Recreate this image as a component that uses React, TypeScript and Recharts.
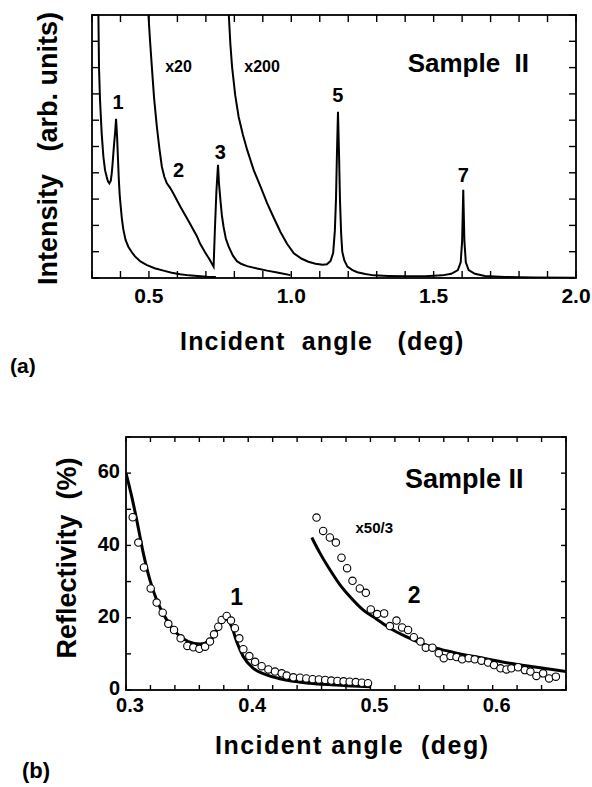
import React from "react";
import {
  ComposedChart,
  Line,
  LineChart,
  ReferenceDot,
  Scatter,
  XAxis,
  YAxis,
} from "recharts";

type Pair = [number, number];

// (a) intensity traces, y in arbitrary units (0..10 = box height)
const mainTrace: Pair[] = [
  [0.3215, 10.4], [0.3225, 10], [0.3246, 8.0], [0.3282, 6.77], [0.334, 5.5], [0.34, 4.61],
  [0.3458, 4.1], [0.3515, 3.85], [0.356, 3.68], [0.361, 3.6], [0.366, 3.7], [0.369, 3.95],
  [0.372, 4.3], [0.375, 4.74], [0.378, 5.15], [0.381, 5.5], [0.3845, 6.05], [0.388, 5.4],
  [0.391, 4.6], [0.394, 3.8], [0.397, 3.2], [0.401, 2.7], [0.405, 2.25], [0.41, 1.85],
  [0.418, 1.45], [0.428, 1.18], [0.44, 0.98], [0.451, 0.82], [0.47, 0.63], [0.493, 0.49],
  [0.52, 0.37], [0.551, 0.28], [0.58, 0.2], [0.61, 0.14], [0.64, 0.1], [0.67, 0.08],
  [0.705, 0.05], [0.735, 0.04],
];

const x20Trace: Pair[] = [
  [0.497, 10.4], [0.4982, 10], [0.504, 9.0], [0.5102, 8.03], [0.518, 6.85], [0.5278, 5.75],
  [0.537, 4.9], [0.5454, 4.23], [0.554, 3.85], [0.563, 3.6], [0.575, 3.42], [0.5863, 3.2],
  [0.61, 2.72], [0.64, 2.15], [0.668, 1.6], [0.68, 1.3], [0.697, 0.98], [0.713, 0.7],
  [0.7271, 0.43], [0.7315, 1.8], [0.737, 3.3], [0.7426, 4.3], [0.746, 3.6], [0.751, 2.97],
  [0.756, 2.4], [0.762, 1.95], [0.77, 1.5], [0.78, 1.19], [0.795, 0.85], [0.809, 0.64],
  [0.825, 0.53], [0.845, 0.45], [0.88, 0.36], [0.915, 0.28], [0.955, 0.2], [0.997, 0.11],
];

const x200Trace: Pair[] = [
  [0.778, 10.4], [0.7805, 10], [0.786, 8.9], [0.792, 8.03], [0.803, 6.95], [0.815, 6.13],
  [0.83, 5.45], [0.845, 4.87], [0.868, 4.1], [0.892, 3.47], [0.915, 2.85], [0.938, 2.3],
  [0.962, 1.75], [0.985, 1.3], [1.009, 0.94], [1.035, 0.74], [1.06, 0.62], [1.085, 0.54],
  [1.11, 0.5], [1.125, 0.52], [1.138, 0.65], [1.147, 0.95], [1.153, 1.8], [1.157, 3.0],
  [1.1605, 4.8], [1.164, 6.32], [1.1675, 4.8], [1.171, 2.97], [1.175, 1.7], [1.179, 1.0],
  [1.186, 0.68], [1.197, 0.43], [1.215, 0.3], [1.232, 0.22], [1.26, 0.15], [1.29, 0.1],
  [1.34, 0.08], [1.4, 0.07], [1.47, 0.07], [1.53, 0.1], [1.562, 0.16], [1.585, 0.3],
  [1.595, 0.6], [1.6, 1.4], [1.6025, 2.6], [1.604, 3.35], [1.6055, 2.6], [1.608, 1.4],
  [1.613, 0.6], [1.623, 0.3], [1.645, 0.16], [1.68, 0.08], [1.75, 0.04], [1.85, 0.02],
  [2.0, 0.01],
];

const aTicksX = [0.3, 0.4, 0.5, 0.6, 0.7, 0.8, 0.9, 1.0, 1.1, 1.2, 1.3, 1.4, 1.5, 1.6, 1.7, 1.8, 1.9, 2.0];
const aLabelsX = [0.5, 1.0, 1.5, 2.0];
const aTicksY = [0, 1, 2, 3, 4, 5, 6, 7, 8, 9, 10];

// (b) reflectivity (%), measured points and fits
const peak1Measured: Pair[] = [
  [0.3055, 47.8], [0.3101, 40.8], [0.3147, 33.9], [0.3202, 28.1], [0.3251, 24.2], [0.33, 21.4],
  [0.3346, 18.3], [0.3393, 16.6], [0.3447, 14.3], [0.3502, 12.2], [0.3551, 11.8], [0.36, 11.4],
  [0.3647, 12.0], [0.3687, 13.4], [0.372, 15.4], [0.3755, 17.5], [0.3783, 19.4], [0.3824, 20.5],
  [0.3859, 19.2], [0.3891, 17.1], [0.3927, 14.3], [0.396, 11.3], [0.4009, 9.4], [0.4056, 7.8],
  [0.411, 6.6], [0.4165, 5.7], [0.4219, 5.1], [0.4274, 4.6], [0.4315, 4.0], [0.4369, 3.5],
  [0.4424, 3.4], [0.4475, 3.2], [0.4527, 3.0], [0.4578, 2.9], [0.463, 2.8], [0.468, 2.6],
  [0.473, 2.5], [0.478, 2.4], [0.483, 2.3], [0.488, 2.2], [0.493, 2.0], [0.498, 1.9],
];

const peak1Fit: Pair[] = [
  [0.3, 60], [0.3047, 53.5], [0.3088, 47.0], [0.3142, 37.8], [0.3196, 30.4], [0.3251, 24.9],
  [0.3333, 19.4], [0.3415, 15.7], [0.351, 13.4], [0.3606, 12.7], [0.3687, 13.8], [0.3725, 15.2],
  [0.3755, 17.5], [0.3785, 19.3], [0.381, 19.9], [0.3835, 19.3], [0.3865, 17.5], [0.3905, 13.4],
  [0.396, 9.2], [0.4042, 6.0], [0.415, 4.2], [0.425, 3.2], [0.4369, 2.4], [0.45, 1.9],
  [0.465, 1.5], [0.48, 1.2], [0.5, 0.9],
];

const peak2Measured: Pair[] = [
  [0.4559, 47.7], [0.4613, 44.0], [0.4668, 42.2], [0.4717, 40.8], [0.4763, 36.6], [0.4809, 33.7],
  [0.4853, 30.2], [0.4913, 28.1], [0.4962, 26.9], [0.5003, 22.3], [0.5055, 21.0], [0.5112, 21.2],
  [0.5159, 17.7], [0.5213, 19.2], [0.5259, 17.3], [0.5308, 16.6], [0.5355, 14.6], [0.5409, 13.4],
  [0.5453, 11.7], [0.5507, 11.7], [0.5559, 10.2], [0.56, 8.8], [0.5655, 9.4], [0.5704, 9.1],
  [0.575, 8.5], [0.5804, 8.8], [0.5853, 8.5], [0.5908, 8.1], [0.5962, 7.6], [0.6011, 6.9],
  [0.6064, 6.0], [0.6113, 5.7], [0.6153, 6.0], [0.6208, 6.3], [0.6263, 5.5], [0.6309, 5.1],
  [0.6358, 3.9], [0.6413, 4.6], [0.6462, 3.2], [0.6517, 3.7],
];

const peak2Fit: Pair[] = [
  [0.452, 42.2], [0.4588, 37.8], [0.467, 33.2], [0.4751, 29.1], [0.4833, 25.8], [0.4942, 22.1],
  [0.5051, 19.6], [0.516, 17.1], [0.5297, 14.7], [0.5433, 12.7], [0.557, 11.3], [0.5706, 10.2],
  [0.5924, 8.8], [0.6142, 7.4], [0.6361, 6.3], [0.66, 5.1],
];

const bTicksX = [0.3, 0.32, 0.34, 0.36, 0.38, 0.4, 0.42, 0.44, 0.46, 0.48, 0.5, 0.52, 0.54, 0.56, 0.58, 0.6, 0.62, 0.64, 0.66];
const bLabelsX = [0.3, 0.4, 0.5, 0.6];
const bTicksY = [0, 10, 20, 30, 40, 50, 60, 70];
const bLabelsY = [0, 20, 40, 60];

const pts = (rows: Pair[]) => rows.map(([x, y]) => ({ x, y }));
const pick = (labels: number[], digits: number) => (v: number) =>
  labels.some((l) => Math.abs(l - v) < 1e-6) ? v.toFixed(digits) : "";

const FONT = '"Liberation Sans", Arial, Helvetica, sans-serif';
const NB = "\u00A0";

// page-pixel plot boxes; the chart margins below are derived from these
const BOX_A = { left: 92, right: 576, top: 15, bottom: 278, dx: [0.3, 2.0], dy: [0, 10], tick: 7 };
const TOP_B = 420;
const BOX_B = { left: 126, right: 566, top: 437, bottom: 690, dx: [0.3, 0.66], dy: [0, 70], tick: 5 };

const note = (size: number) => ({ position: "center" as const, fontSize: size, fontWeight: 700, fill: "#000", fontFamily: FONT });

function Circle(props: any) {
  if (props.cx == null || props.cy == null) return null;
  return <circle cx={props.cx} cy={props.cy} r={3.7} fill="#fff" stroke="#000" strokeWidth={1.1} />;
}

// frame with inward ticks on all four sides
function Frame({ box, xs, ys }: { box: typeof BOX_A; xs: number[]; ys: number[] }) {
  const { left, right, top, bottom, dx, dy, tick } = box;
  const px = (v: number) => left + ((v - dx[0]) / (dx[1] - dx[0])) * (right - left);
  const py = (v: number) => bottom - ((v - dy[0]) / (dy[1] - dy[0])) * (bottom - top);
  return (
    <g stroke="#000" fill="none">
      <rect x={left} y={top} width={right - left} height={bottom - top} strokeWidth={1.8} />
      {xs.map((v, i) => (
        <g key={`x${i}`} strokeWidth={1.4}>
          <line x1={px(v)} x2={px(v)} y1={bottom} y2={bottom - tick} />
          <line x1={px(v)} x2={px(v)} y1={top} y2={top + tick} />
        </g>
      ))}
      {ys.map((v, i) => (
        <g key={`y${i}`} strokeWidth={1.4}>
          <line x1={left} x2={left + tick} y1={py(v)} y2={py(v)} />
          <line x1={right} x2={right - tick} y1={py(v)} y2={py(v)} />
        </g>
      ))}
    </g>
  );
}

function PanelA() {
  const H = 320;
  return (
    <LineChart width={592} height={H}
      margin={{ top: BOX_A.top, right: 592 - BOX_A.right, bottom: H - BOX_A.bottom - 1, left: BOX_A.left }}>
      <XAxis xAxisId="b" dataKey="x" type="number" domain={BOX_A.dx} allowDataOverflow
        ticks={aTicksX} interval={0} height={1} tickSize={0} tickMargin={10}
        tickFormatter={pick(aLabelsX, 1)} axisLine={false} tickLine={false}
        tick={{ fontSize: 21, fontWeight: 700, fill: "#000", fontFamily: FONT }} />
      <YAxis yAxisId="l" dataKey="y" type="number" domain={BOX_A.dy} allowDataOverflow
        ticks={aTicksY} width={0} hide />
      <Line xAxisId="b" yAxisId="l" data={pts(mainTrace)} dataKey="y" type="linear" stroke="#000" strokeWidth={2} dot={false} isAnimationActive={false} />
      <Line xAxisId="b" yAxisId="l" data={pts(x20Trace)} dataKey="y" type="linear" stroke="#000" strokeWidth={2} dot={false} isAnimationActive={false} />
      <Line xAxisId="b" yAxisId="l" data={pts(x200Trace)} dataKey="y" type="linear" stroke="#000" strokeWidth={2} dot={false} isAnimationActive={false} />
      <ReferenceDot xAxisId="b" yAxisId="l" x={0.3915} y={6.69} r={0} stroke="none" label={{ value: "1", ...note(20) }} />
      <ReferenceDot xAxisId="b" yAxisId="l" x={0.604} y={8.03} r={0} stroke="none" label={{ value: "x20", ...note(16) }} />
      <ReferenceDot xAxisId="b" yAxisId="l" x={0.8975} y={8.03} r={0} stroke="none" label={{ value: "x200", ...note(16) }} />
      <ReferenceDot xAxisId="b" yAxisId="l" x={0.604} y={4.1} r={0} stroke="none" label={{ value: "2", ...note(20) }} />
      <ReferenceDot xAxisId="b" yAxisId="l" x={0.7507} y={4.79} r={0} stroke="none" label={{ value: "3", ...note(20) }} />
      <ReferenceDot xAxisId="b" yAxisId="l" x={1.1637} y={6.96} r={0} stroke="none" label={{ value: "5", ...note(20) }} />
      <ReferenceDot xAxisId="b" yAxisId="l" x={1.604} y={3.92} r={0} stroke="none" label={{ value: "7", ...note(20) }} />
      <ReferenceDot xAxisId="b" yAxisId="l" x={1.622} y={8.2} r={0} stroke="none" label={{ value: `Sample${NB}${NB}II`, ...note(26) }} />
    </LineChart>
  );
}

function PanelB() {
  const H = 300;
  return (
    <ComposedChart width={592} height={H}
      margin={{ top: BOX_B.top - TOP_B, right: 592 - BOX_B.right, bottom: H - (BOX_B.bottom - TOP_B) - 1, left: BOX_B.left - 1 }}>
      <XAxis xAxisId="b" dataKey="x" type="number" domain={BOX_B.dx} allowDataOverflow
        ticks={bTicksX} interval={0} height={1} tickSize={0} tickMargin={8}
        tickFormatter={pick(bLabelsX, 1)} axisLine={false} tickLine={false}
        tick={{ fontSize: 20, fontWeight: 700, fill: "#000", fontFamily: FONT, dx: 4 }} />
      <YAxis yAxisId="l" dataKey="y" type="number" domain={BOX_B.dy} allowDataOverflow
        ticks={bTicksY} interval={0} width={1} tickSize={0} tickMargin={6}
        tickFormatter={pick(bLabelsY, 0)} axisLine={false} tickLine={false}
        tick={{ fontSize: 20, fontWeight: 700, fill: "#000", fontFamily: FONT, dy: -2 }} />
      <Scatter xAxisId="b" yAxisId="l" data={pts(peak1Measured)} shape={Circle} isAnimationActive={false} />
      <Scatter xAxisId="b" yAxisId="l" data={pts(peak2Measured)} shape={Circle} isAnimationActive={false} />
      <Line xAxisId="b" yAxisId="l" data={pts(peak1Fit)} dataKey="y" type="monotone" stroke="#000" strokeWidth={3} dot={false} isAnimationActive={false} />
      <Line xAxisId="b" yAxisId="l" data={pts(peak2Fit)} dataKey="y" type="monotone" stroke="#000" strokeWidth={3} dot={false} isAnimationActive={false} />
      <ReferenceDot xAxisId="b" yAxisId="l" x={0.3906} y={25.8} r={0} stroke="none" label={{ value: "1", ...note(23) }} />
      <ReferenceDot xAxisId="b" yAxisId="l" x={0.5357} y={26.3} r={0} stroke="none" label={{ value: "2", ...note(23) }} />
      <ReferenceDot xAxisId="b" yAxisId="l" x={0.5031} y={44.8} r={0} stroke="none" label={{ value: "x50/3", ...note(15) }} />
      <ReferenceDot xAxisId="b" yAxisId="l" x={0.5768} y={58.6} r={0} stroke="none" label={{ value: `Sample${NB}II`, ...note(27) }} />
    </ComposedChart>
  );
}

export default function App() {
  const txt = { fontFamily: FONT, fontWeight: 700, fill: "#000", whiteSpace: "pre" as const };
  return (
    <div style={{ position: "absolute", left: 0, top: 0, width: 592, height: 787, background: "#fff", fontFamily: FONT }}>
      <div style={{ position: "absolute", left: 0, top: 0 }}>
        <PanelA />
      </div>
      <div style={{ position: "absolute", left: 0, top: TOP_B }}>
        <PanelB />
      </div>
      <svg width={592} height={787} style={{ position: "absolute", left: 0, top: 0, pointerEvents: "none" }}>
        <Frame box={BOX_A} xs={aTicksX} ys={aTicksY} />
        <Frame box={BOX_B} xs={bTicksX} ys={bTicksY} />
        <text transform="translate(47,148.5) rotate(-90)" textAnchor="middle" dy={9.5} fontSize={27} style={txt}>
          {"Intensity   (arb. units)"}
        </text>
        <text x={180} y={350} fontSize={25} letterSpacing={1.2} style={txt}>{"Incident  angle   (deg)"}</text>
        <text x={10} y={373} fontSize={21} style={txt}>(a)</text>
        <text transform="translate(67,558) rotate(-90)" textAnchor="middle" dy={9} fontSize={27} style={txt}>
          {"Reflectivity  (%)"}
        </text>
        <text x={215} y={754} fontSize={25} letterSpacing={1.5} style={txt}>{"Incident angle  (deg)"}</text>
        <text x={22} y={778} fontSize={22} style={txt}>(b)</text>
      </svg>
    </div>
  );
}
